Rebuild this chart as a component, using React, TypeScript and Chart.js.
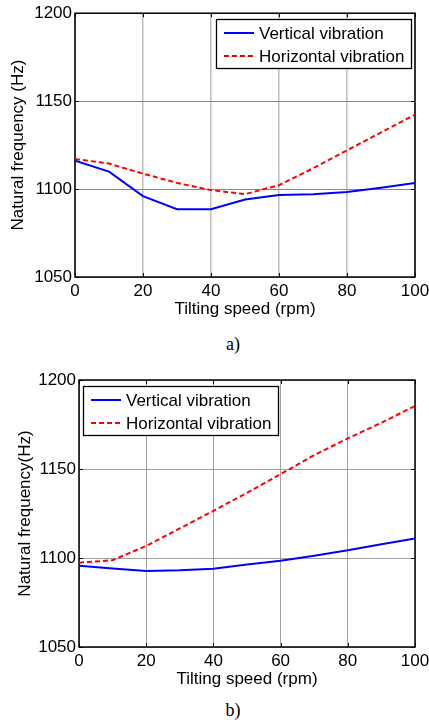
import React, { useEffect, useRef } from "react";
import { Chart, registerables } from "chart.js";

Chart.register(...registerables);

// ---------- data ----------
const speedsA = [0, 10, 20, 30, 40, 50, 60, 70, 80, 90, 100];
const verticalA = [1116.1, 1109.9, 1096.0, 1088.5, 1088.5, 1094.1, 1096.6, 1097.1, 1098.4, 1100.8, 1103.5];
const horizontalA = [1117.1, 1114.5, 1108.8, 1103.5, 1099.4, 1097.1, 1102.2, 1111.8, 1122.0, 1132.2, 1142.3];

const speedsB = [0, 10, 20, 30, 40, 50, 60, 70, 80, 90, 100];
const verticalB = [1095.6, 1094.1, 1092.75, 1093.1, 1094.0, 1096.3, 1098.4, 1101.2, 1104.4, 1107.7, 1110.9];
const horizontalB = [1097.4, 1098.75, 1106.8, 1116.6, 1126.5, 1136.6, 1147.1, 1157.8, 1167.2, 1176.0, 1185.4];

const seriesLabels = ["Vertical vibration", "Horizontal vibration"];
const xTitle = "Tilting speed (rpm)";
const yTitleA = "Natural frequency (Hz)";
const yTitleB = "Natural frequency(Hz)";
const captions = ["a)", "b)"];

const FONT = "Arial, 'Liberation Sans', Helvetica, sans-serif";
const SERIF = "'Times New Roman', 'Liberation Serif', serif";

const boxPlugin = {
  id: "matlabBox",
  beforeDatasetsDraw(chart: any) {
    const { ctx, chartArea: a, scales } = chart;
    ctx.save();
    ctx.strokeStyle = "#000";
    ctx.lineWidth = 1;
    const tl = 4;
    scales.x.ticks.forEach((t: any) => {
      const px = Math.round(scales.x.getPixelForValue(t.value)) + 0.5;
      ctx.beginPath();
      ctx.moveTo(px, a.top);
      ctx.lineTo(px, a.top + tl);
      ctx.moveTo(px, a.bottom);
      ctx.lineTo(px, a.bottom - tl);
      ctx.stroke();
    });
    scales.y.ticks.forEach((t: any) => {
      const py = Math.round(scales.y.getPixelForValue(t.value)) + 0.5;
      ctx.beginPath();
      ctx.moveTo(a.left, py);
      ctx.lineTo(a.left + tl, py);
      ctx.moveTo(a.right, py);
      ctx.lineTo(a.right - tl, py);
      ctx.stroke();
    });
    ctx.lineWidth = 1.5;
    ctx.strokeRect(a.left, a.top, a.right - a.left, a.bottom - a.top);
    ctx.restore();
  },
};

function makeLegendPlugin(corner: "left" | "right") {
  return {
    id: "insideLegend",
    afterDraw(chart: any) {
      const { ctx, chartArea: a } = chart;
      const ds = chart.data.datasets;
      ctx.save();
      ctx.font = `17px ${FONT}`;
      const tw = Math.max(...ds.map((d: any) => ctx.measureText(d.label).width));
      const w = Math.round(8 + 30 + 5 + tw + 6);
      const h = 49;
      const x = Math.round(corner === "right" ? a.right - 4 - w : a.left + 4);
      const y = Math.round(a.top + 6);
      ctx.fillStyle = "#fff";
      ctx.fillRect(x, y, w, h);
      ctx.strokeStyle = "#000";
      ctx.lineWidth = 1.3;
      ctx.strokeRect(x + 0.5, y + 0.5, w, h);
      ds.forEach((d: any, i: number) => {
        const cy = y + 14 + i * 23;
        ctx.strokeStyle = d.borderColor;
        ctx.lineWidth = d.borderWidth;
        ctx.setLineDash(d.borderDash || []);
        ctx.beginPath();
        ctx.moveTo(x + 8, cy);
        ctx.lineTo(x + 38, cy);
        ctx.stroke();
        ctx.setLineDash([]);
        ctx.fillStyle = "#000";
        ctx.textBaseline = "middle";
        ctx.textAlign = "left";
        ctx.fillText(d.label, x + 43, cy + 1);
      });
      ctx.restore();
    },
  };
}

type PanelProps = {
  speeds: number[];
  vertical: number[];
  horizontal: number[];
  yTitle: string;
  width: number;
  height: number;
  padTop: number;
  padRight: number;
  yWidth: number;
  xHeight: number;
  yTitlePad: number;
  legendCorner: "left" | "right";
  xGrid: string;
  xGridW: number;
  yGrid: string;
  yGridW: number;
};

function Panel(p: PanelProps) {
  const ref = useRef<HTMLCanvasElement | null>(null);
  useEffect(() => {
    if (!ref.current) return;
    const chart = new Chart(ref.current, {
      type: "line",
      data: {
        datasets: [
          {
            label: seriesLabels[0],
            data: p.speeds.map((s, i) => ({ x: s, y: p.vertical[i] })),
            borderColor: "#0000ff",
            borderWidth: 2,
            pointRadius: 0,
            tension: 0,
            fill: false,
          },
          {
            label: seriesLabels[1],
            data: p.speeds.map((s, i) => ({ x: s, y: p.horizontal[i] })),
            borderColor: "#ff0000",
            borderWidth: 2,
            borderDash: [5, 3],
            pointRadius: 0,
            tension: 0,
            fill: false,
          },
        ],
      },
      options: {
        animation: false,
        responsive: false,
        devicePixelRatio: 1,
        layout: { padding: { left: 0, right: p.padRight, top: p.padTop, bottom: 0 } },
        plugins: { legend: { display: false }, tooltip: { enabled: false } },
        scales: {
          x: {
            type: "linear",
            min: 0,
            max: 100,
            ticks: {
              stepSize: 20,
              padding: 4,
              color: "#000",
              maxRotation: 0,
              autoSkip: false,
              font: { family: FONT, size: 17 },
              callback: (v: any) => String(v),
            },
            grid: { color: p.xGrid, lineWidth: p.xGridW, drawTicks: false },
            border: { display: false },
            title: {
              display: true,
              text: xTitle,
              color: "#000",
              font: { family: FONT, size: 17 },
              padding: { top: 0, bottom: 10 },
            },
            afterFit(scale: any) {
              scale.height = p.xHeight;
              scale.paddingLeft = 0;
              scale.paddingRight = 0;
            },
          },
          y: {
            type: "linear",
            min: 1050,
            max: 1200,
            ticks: {
              stepSize: 50,
              padding: 3,
              color: "#000",
              font: { family: FONT, size: 17 },
              callback: (v: any) => String(v),
            },
            grid: { color: p.yGrid, lineWidth: p.yGridW, drawTicks: false },
            border: { display: false },
            title: {
              display: true,
              text: p.yTitle,
              color: "#000",
              font: { family: FONT, size: 17 },
              padding: { top: p.yTitlePad, bottom: 0 },
            },
            afterFit(scale: any) {
              scale.width = p.yWidth;
            },
          },
        },
      },
      plugins: [boxPlugin, makeLegendPlugin(p.legendCorner)],
    } as any);
    return () => chart.destroy();
  }, []);
  return (
    <canvas
      ref={ref}
      width={p.width}
      height={p.height}
      style={{ width: p.width, height: p.height, display: "block" }}
    />
  );
}

export default function App() {
  return (
    <div
      style={{
        position: "absolute",
        left: 0,
        top: 0,
        width: 429,
        height: 722,
        background: "#fff",
        overflow: "hidden",
      }}
    >
      <div style={{ position: "absolute", left: 0, top: 0 }}>
        <Panel
          speeds={speedsA}
          vertical={verticalA}
          horizontal={horizontalA}
          yTitle={yTitleA}
          width={429}
          height={330}
          padTop={12}
          padRight={14}
          yWidth={75}
          xHeight={53}
          yTitlePad={8}
          legendCorner="right"
          xGrid="#bdbdbd"
          xGridW={1.5}
          yGrid="#8a8a8a"
          yGridW={1}
        />
      </div>
      <div
        style={{
          position: "absolute",
          left: 0,
          top: 334,
          width: 466,
          textAlign: "center",
          fontFamily: SERIF,
          fontSize: 18,
          lineHeight: "20px",
          color: "#000",
        }}
      >
        {captions[0]}
      </div>
      <div style={{ position: "absolute", left: 0, top: 363 }}>
        <Panel
          speeds={speedsB}
          vertical={verticalB}
          horizontal={horizontalB}
          yTitle={yTitleB}
          width={429}
          height={337}
          padTop={17}
          padRight={14}
          yWidth={79}
          xHeight={53}
          yTitlePad={15}
          legendCorner="left"
          xGrid="#a0a0a0"
          xGridW={1}
          yGrid="#a0a0a0"
          yGridW={1}
        />
      </div>
      <div
        style={{
          position: "absolute",
          left: 0,
          top: 700,
          width: 466,
          textAlign: "center",
          fontFamily: SERIF,
          fontSize: 18,
          lineHeight: "20px",
          color: "#000",
        }}
      >
        {captions[1]}
      </div>
    </div>
  );
}
